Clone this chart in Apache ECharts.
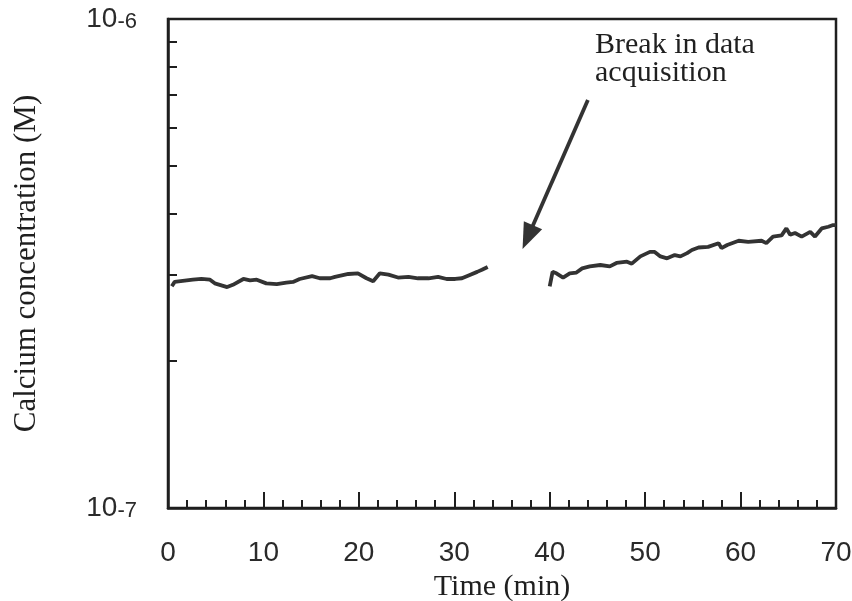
<!DOCTYPE html>
<html>
<head>
<meta charset="utf-8">
<script src="https://cdn.jsdelivr.net/npm/echarts@6/dist/echarts.min.js"></script>
<style>
  html, body { margin: 0; padding: 0; background: #fff; }
  #chart { width: 852px; height: 601px; }
</style>
</head>
<body>
<div id="chart"></div>
<script>
// time (min) and calcium concentration (M), before the break
const earlyTime = [0.4, 0.7, 2.6, 3.5, 4.4, 4.9, 6.2, 6.8, 7.9, 8.6, 9.3, 10.3, 11.4, 12.4, 13.1, 13.8,
  15.1, 15.9, 17.0, 17.5, 18.9, 19.9, 20.8, 21.5, 22.2, 23.1, 24.1, 25.2, 26.2, 27.3, 28.3, 29.2,
  30.1, 30.8, 31.5, 32.4, 32.9, 33.5]
const earlyConc = [2.84e-7, 2.90e-7, 2.93e-7, 2.94e-7, 2.93e-7, 2.88e-7, 2.83e-7, 2.86e-7, 2.94e-7, 2.92e-7,
  2.93e-7, 2.88e-7, 2.87e-7, 2.89e-7, 2.90e-7, 2.94e-7, 2.98e-7, 2.95e-7, 2.95e-7, 2.97e-7, 3.01e-7,
  3.02e-7, 2.95e-7, 2.91e-7, 3.02e-7, 3.00e-7, 2.96e-7, 2.97e-7, 2.95e-7, 2.95e-7, 2.97e-7, 2.94e-7,
  2.94e-7, 2.95e-7, 2.99e-7, 3.04e-7, 3.07e-7, 3.11e-7]
// after the break
const lateTime = [40.0, 40.3, 40.7, 41.4, 42.1, 42.8, 43.4, 44.2, 45.3, 46.3, 47.0, 48.1, 48.6, 49.5,
  50.5, 51.0, 51.6, 52.3, 53.1, 53.7, 54.4, 54.9, 55.6, 56.6, 57.7, 58.0, 58.6, 59.8, 60.8, 62.2,
  62.7, 63.4, 64.3, 64.8, 65.2, 65.7, 66.4, 67.3, 67.8, 68.5, 69.2, 69.7, 70.0]
const lateConc = [2.84e-7, 3.04e-7, 3.02e-7, 2.96e-7, 3.02e-7, 3.03e-7, 3.09e-7, 3.12e-7, 3.14e-7, 3.12e-7,
  3.17e-7, 3.19e-7, 3.16e-7, 3.27e-7, 3.34e-7, 3.34e-7, 3.27e-7, 3.24e-7, 3.29e-7, 3.27e-7, 3.32e-7,
  3.37e-7, 3.41e-7, 3.42e-7, 3.48e-7, 3.40e-7, 3.45e-7, 3.52e-7, 3.50e-7, 3.52e-7, 3.48e-7, 3.59e-7,
  3.61e-7, 3.73e-7, 3.62e-7, 3.65e-7, 3.59e-7, 3.67e-7, 3.59e-7, 3.73e-7, 3.76e-7, 3.79e-7, 3.79e-7]
// arrow pointing at the gap: [time, conc] start and arrowhead centre
const arrowFrom = [44.0, 6.83e-7]
const arrowTo = [37.7, 3.58e-7]
const yMinorTicks = [2e-7, 3e-7, 4e-7, 5e-7, 6e-7, 7e-7, 8e-7, 9e-7]

const ink = '#1f1f1f'
const serif = '"Liberation Serif", "DejaVu Serif", serif'
const sans = '"Liberation Sans", Arial, sans-serif'

const chart = echarts.init(document.getElementById('chart'))
chart.setOption({
  animation: false,
  backgroundColor: '#fff',
  grid: {
    left: 168,
    right: 16,
    top: 19,
    bottom: 93,
    outerBoundsMode: 'none',
    show: true,
    borderColor: ink,
    borderWidth: 2.5
  },
  xAxis: {
    type: 'value',
    min: 0,
    max: 70,
    interval: 10,
    name: 'Time (min)',
    nameLocation: 'middle',
    nameGap: 59,
    nameTextStyle: { fontFamily: serif, fontSize: 30, color: ink },
    axisLine: { lineStyle: { color: ink, width: 2.5 } },
    axisTick: { inside: true, length: 16, lineStyle: { color: ink, width: 2 } },
    minorTick: { show: true, splitNumber: 5, length: 8, lineStyle: { color: ink, width: 2 } },
    splitLine: { show: false },
    axisLabel: { fontFamily: sans, fontSize: 28, color: '#2a2a2a', margin: 31 }
  },
  yAxis: {
    type: 'log',
    logBase: 10,
    min: 1e-7,
    max: 1e-6,
    name: 'Calcium concentration (M)',
    nameLocation: 'middle',
    nameGap: 126,
    nameRotate: 90,
    nameTextStyle: { fontFamily: serif, fontSize: 31, color: ink },
    axisLine: { show: true, lineStyle: { color: ink, width: 2.5 } },
    axisTick: { inside: true, length: 9, customValues: yMinorTicks, lineStyle: { color: ink, width: 2 } },
    splitLine: { show: false },
    axisLabel: {
      margin: 31,
      formatter: v => '{a|10}{b|' + Math.round(Math.log10(v)) + '}',
      rich: {
        a: { fontFamily: sans, fontSize: 28, color: '#2a2a2a' },
        b: { fontFamily: sans, fontSize: 22, color: '#2a2a2a', verticalAlign: 'bottom' }
      }
    }
  },
  graphic: [{
    type: 'text',
    left: 595,
    top: 30,
    style: {
      text: 'Break in data\nacquisition',
      font: '30px ' + serif,
      lineHeight: 28,
      fill: ink
    }
  }],
  series: [{
    type: 'line',
    data: earlyTime.map((t, i) => [t, earlyConc[i]]),
    showSymbol: false,
    lineStyle: { color: '#333', width: 3.8 },
    markLine: {
      silent: true,
      symbol: ['none', 'triangle'],
      symbolSize: [20, 26],
      label: { show: false },
      itemStyle: { color: '#333' },
      lineStyle: { color: '#333', width: 3.8, type: 'solid' },
      data: [[{ coord: arrowFrom }, { coord: arrowTo }]]
    }
  }, {
    type: 'line',
    data: lateTime.map((t, i) => [t, lateConc[i]]),
    showSymbol: false,
    lineStyle: { color: '#333', width: 3.8 }
  }]
})
</script>
</body>
</html>
